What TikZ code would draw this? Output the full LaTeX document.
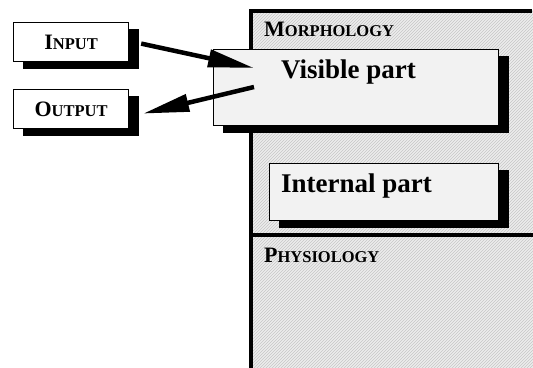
\documentclass[tikz,border=0pt]{standalone}
\usepackage{fontspec}
\setmainfont{Liberation Serif}
\usetikzlibrary{patterns,arrows.meta,calc}

% bold caps-and-small-caps label: first letter large, rest smaller
\newcommand\capsword[2]{\bfseries{\fontsize{22}{22}\selectfont #1}{\fontsize{16.5}{16.5}\selectfont #2}}

\definecolor{boxgray}{HTML}{F2F2F2}
\definecolor{panelgray}{HTML}{EDEDED}

\pgfdeclarelayer{panel}
\pgfdeclarelayer{shade}
\pgfsetlayers{panel,shade,main}

\tikzset{
  shadowbox/.style={draw=black, line width=1.2pt, rectangle, inner sep=0pt},
  iobox/.style={shadowbox, fill=white, minimum width=115pt, minimum height=39pt},
  partbox/.style={shadowbox, fill=boxgray},
  partlabel/.style={anchor=base west, inner sep=0pt, font=\bfseries\fontsize{27}{27}\selectfont},
  panellabel/.style={anchor=base west, inner sep=0pt},
  flow/.style={line width=4.5pt, -{Triangle[length=46pt,width=17pt]}},
  shade/.style={fill=black},
}

\begin{document}
\begin{tikzpicture}[x=1pt,y=-1pt]
\useasboundingbox (0,0) rectangle (533,367);

% hatched panel
\begin{pgfonlayer}{panel}
\fill[panelgray] (251,10) rectangle (540,370);
\fill[pattern=north east lines, pattern color=gray!45] (251,10) rectangle (540,370);
\draw[line width=4pt] (251,370) -- (251,10.5) -- (532,10.5);
\draw[line width=4pt] (251,235) -- (540,235);
\end{pgfonlayer}

\node[panellabel] (morph) at (264,36) {\capsword{M}{ORPHOLOGY}};
\node[panellabel] (phys) at (264,262) {\capsword{P}{HYSIOLOGY}};

% parts
\node[partbox, anchor=north west, minimum width=285pt, minimum height=76pt] (visible) at (213,49) {};
\node[partlabel] (vislabel) at (281,78) {Visible part};

\node[partbox, anchor=north west, minimum width=229pt, minimum height=57pt] (internal) at (269,163) {};
\node[partlabel] (intlabel) at (281,192) {Internal part};

% input / output
\node[iobox, anchor=north west] (input) at (13,22) {\capsword{I}{NPUT}};
\node[iobox, anchor=north west] (output) at (13,89) {\capsword{O}{UTPUT}};

% solid drop shadows behind the boxes
\begin{pgfonlayer}{shade}
\foreach \b in {visible,internal,input,output}
  \fill[shade] ($(\b.south west)+(10,7)$) rectangle ($(\b.north east)+(10,7)$);
\end{pgfonlayer}

\coordinate (intip) at (254,68);
\coordinate (outstart) at (254,87);
\draw[flow] ($(input.east)+(12,1.5)$) -- (intip);
\draw[flow] (outstart) -- ($(output.east)+(14,4.5)$);
\end{tikzpicture}
\end{document}
